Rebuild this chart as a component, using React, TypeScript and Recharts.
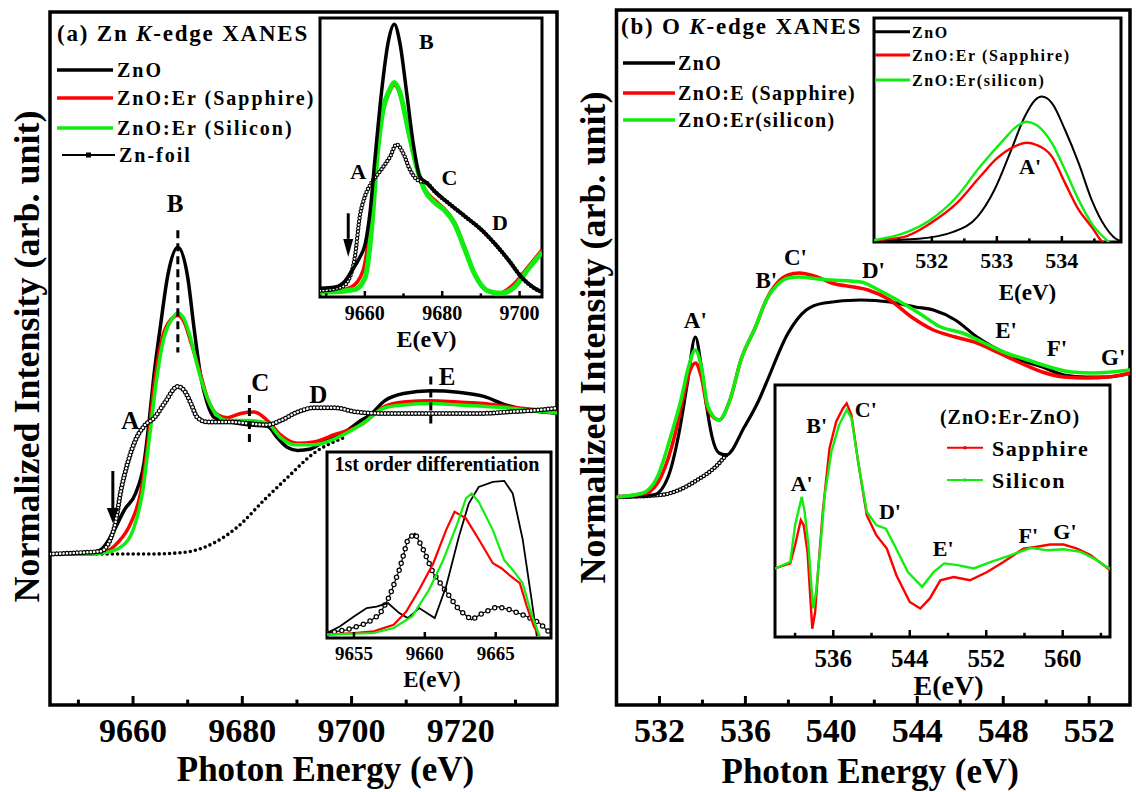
import React from "react";
import { LineChart, Line, XAxis, YAxis, ReferenceArea, ReferenceLine, ReferenceDot } from "recharts";

const SERIF = '"Liberation Serif", "Times New Roman", Times, serif';
const RED = "#ff0000";
const GREEN = "#10ee10";

// (a) Zn K-edge XANES, main panel (photon energy in eV, normalized intensity)
const aZnoE = [9644.8, 9650, 9652.5, 9654.1, 9656.3, 9658.4, 9660.5, 9662, 9662.9, 9663.8, 9665.1, 9666.3, 9668.2, 9670, 9671.2, 9672.4, 9673.6, 9674.9, 9677.9, 9681, 9684.6, 9686.4, 9688.3, 9690.1, 9692.5, 9694.4, 9699.2, 9701.7, 9703.4, 9706.1, 9709.5, 9714.5, 9719.5, 9724.2, 9728.2, 9732.9, 9738.3];
const aZnoI = [0, 0, 0.01, 0.03, 0.15, 0.31, 0.43, 0.64, 0.92, 1.25, 1.63, 1.95, 2.16, 1.95, 1.58, 1.25, 1.06, 0.96, 0.93, 0.91, 0.9, 0.82, 0.75, 0.73, 0.74, 0.78, 0.87, 0.94, 0.98, 1.08, 1.13, 1.15, 1.14, 1.11, 1.05, 1.01, 0.99];
const aSapE = [9644.8, 9652, 9654.6, 9657.2, 9659.6, 9661.5, 9662.7, 9663.9, 9665.4, 9666.9, 9668.2, 9669.4, 9670.6, 9672.1, 9673.6, 9675.5, 9677.3, 9679.7, 9682.2, 9684.6, 9687, 9690.1, 9693.1, 9696.8, 9701.7, 9706.1, 9709.5, 9714.5, 9719.5, 9724.2, 9728.2, 9732.9, 9738.3];
const aSapI = [0, 0, 0.01, 0.08, 0.22, 0.45, 0.78, 1.2, 1.53, 1.65, 1.68, 1.63, 1.49, 1.3, 1.1, 0.98, 0.96, 0.99, 1.0, 0.94, 0.84, 0.78, 0.79, 0.84, 0.91, 1.04, 1.07, 1.08, 1.07, 1.06, 1.04, 1.02, 1.0];
const aSiE = [9644.8, 9652, 9655, 9657.8, 9660.2, 9661.8, 9663, 9664.2, 9665.7, 9667.2, 9668.2, 9669.4, 9670.6, 9671.8, 9673.3, 9674.9, 9677.3, 9681, 9684.6, 9687, 9689.5, 9693.1, 9696.8, 9701.7, 9706.1, 9709.5, 9714.5, 9719.5, 9724.2, 9728.2, 9732.9, 9738.3];
const aSiI = [0, 0, 0.01, 0.05, 0.19, 0.45, 0.82, 1.2, 1.53, 1.66, 1.7, 1.65, 1.51, 1.32, 1.13, 1.0, 0.94, 0.94, 0.92, 0.82, 0.77, 0.77, 0.81, 0.91, 1.03, 1.05, 1.06, 1.05, 1.04, 1.03, 1.01, 0.99];
const aFoilE = [9644.8, 9650.5, 9654.1, 9656.6, 9657.8, 9659, 9660.2, 9662, 9663.9, 9665.7, 9668.2, 9669.4, 9670.6, 9671.8, 9673.6, 9677.9, 9681, 9684.6, 9687, 9690.1, 9693.1, 9696.8, 9701, 9706, 9712, 9718, 9724, 9728.2, 9732.9, 9738.3];
const aFoilI = [0, 0.01, 0.02, 0.19, 0.45, 0.64, 0.78, 0.9, 0.96, 1.06, 1.18, 1.15, 1.06, 0.96, 0.93, 0.93, 0.92, 0.91, 0.94, 1.0, 1.03, 1.03, 1.0, 0.99, 0.99, 0.99, 0.99, 1.0, 1.01, 1.03];
const aBgE = [9644.8, 9655, 9662.7, 9669, 9674.9, 9679.1, 9684, 9688.3, 9693.1, 9698.6];
const aBgI = [0, 0, 0, 0.01, 0.08, 0.19, 0.38, 0.54, 0.71, 0.82];
const aTicks = [9650, 9660, 9670, 9680, 9690, 9700, 9710, 9720, 9730];
const aMajor = [9660, 9680, 9700, 9720];

// (a) top inset: zoom of the edge
const i1ZnoE = [9648.4, 9652.3, 9654.9, 9656.6, 9658.7, 9660.1, 9661.4, 9662.6, 9664.3, 9666, 9667.6, 9669.05, 9670.8, 9672.5, 9674.2, 9676, 9678.1, 9681.5, 9685.9, 9690.2, 9693.6, 9697.1, 9700.5, 9703.9, 9705.8];
const i1ZnoI = [0.03, 0.04, 0.09, 0.17, 0.28, 0.39, 0.66, 1.07, 1.61, 2.01, 2.16, 2.01, 1.61, 1.2, 0.93, 0.88, 0.81, 0.72, 0.61, 0.5, 0.39, 0.26, 0.12, 0.03, 0.0];
const i1SapE = [9648.4, 9650.6, 9656.5, 9659.5, 9661.4, 9662.9, 9664.6, 9666.3, 9667.6, 9669.05, 9671.2, 9673.4, 9675.5, 9678.1, 9680.6, 9683.2, 9685.9, 9688.3, 9691.5, 9694.6, 9698.4, 9702.1, 9705.8];
const i1SapI = [0, 0, 0.04, 0.17, 0.55, 1.05, 1.45, 1.61, 1.67, 1.6, 1.3, 1.0, 0.83, 0.74, 0.67, 0.56, 0.35, 0.15, 0.01, -0.01, 0.06, 0.2, 0.34];
const i1SiE = [9648.4, 9650.6, 9657.4, 9660.1, 9661.8, 9663.1, 9664.7, 9666.4, 9667.6, 9669.05, 9671.2, 9673.4, 9675.5, 9678.1, 9680.6, 9683.2, 9685.9, 9688.3, 9691.8, 9695.2, 9698.7, 9702.1, 9705.8];
const i1SiI = [0, 0, 0.02, 0.12, 0.53, 1.07, 1.47, 1.63, 1.69, 1.61, 1.31, 1.01, 0.82, 0.72, 0.66, 0.55, 0.34, 0.15, 0.01, -0.01, 0.04, 0.18, 0.32];
const i1FoilE = [9648.4, 9654.0, 9656.1, 9657.4, 9658.7, 9660.0, 9661.7, 9664.3, 9666.5, 9668.2, 9669.9, 9671.6, 9673.8, 9676, 9678.1, 9681.5, 9685.9, 9690.2, 9693.6, 9697.1, 9700.5, 9703.9, 9705.8];
const i1FoilI = [0.01, 0.04, 0.12, 0.28, 0.61, 0.77, 0.88, 0.99, 1.09, 1.19, 1.12, 0.99, 0.9, 0.88, 0.81, 0.72, 0.61, 0.5, 0.39, 0.26, 0.12, 0.03, 0.0];
const i1Ticks = [9650, 9660, 9670, 9680, 9690, 9700];
const i1Major = [9660, 9680, 9700];

// (a) lower inset: 1st order differentiation
const d1ZnoE = [9653.1, 9654, 9655, 9655.9, 9656.6, 9657.4, 9658.2, 9658.8, 9659.6, 9660.7, 9661.5, 9662.4, 9663.1, 9663.8, 9664.8, 9665.6, 9666.2, 9666.9, 9667.5, 9667.9];
const d1ZnoV = [2.7, 6.2, 11.6, 16.1, 16.9, 18.8, 13.4, 10.7, 16.1, 10.7, 27.7, 54.4, 72.3, 81.2, 83.9, 84.5, 77.7, 53.1, 22.3, 0.9];
const d1SapE = [9653.1, 9655, 9656.4, 9657.8, 9658.7, 9659.6, 9660.6, 9661.5, 9662.1, 9662.9, 9663.8, 9664.8, 9665.4, 9666.1, 9666.7, 9667.2, 9667.7, 9668.1];
const d1SapV = [1.8, 2.7, 3.6, 7.1, 14.3, 25.9, 40.2, 58, 67.8, 64.3, 53.1, 40.2, 37.5, 33, 29.5, 16.9, 6.2, 0.9];
const d1SiE = [9653.1, 9656.4, 9657.8, 9659.1, 9660.3, 9661.3, 9662.3, 9662.9, 9663.3, 9663.8, 9664.8, 9665.6, 9666.3, 9666.9, 9667.5, 9668.1];
const d1SiV = [1.8, 2.7, 5.4, 11.6, 25.9, 41.9, 61.6, 75, 77.7, 73.2, 58, 41.9, 35.7, 29.5, 13.4, 0.9];
const d1FoilE = [9653.1, 9654.5, 9655.9, 9656.8, 9657.5, 9658.2, 9658.8, 9659.3, 9659.9, 9660.6, 9661.5, 9662.4, 9663.3, 9664.1, 9665.1, 9666, 9667.2, 9668.1, 9668.7];
const d1FoilV = [2.7, 4.4, 8, 12.5, 22.3, 36.6, 53.1, 56.3, 47.4, 34.8, 25, 15.2, 9.8, 13.4, 16.9, 15.2, 11.6, 8, 3.6];
const d1Ticks = [9655, 9660, 9665];

// (b) O K-edge XANES, main panel
const bZnoE = [530, 531.73, 532.4, 532.91, 533.3, 533.67, 533.95, 534.2, 534.45, 534.77, 535.11, 535.95, 536.63, 536.97, 537.99, 538.83, 539.67, 541.37, 542.72, 543.91, 544.75, 545.77, 546.78, 547.8, 548.81, 549.82, 550.84, 551.86, 552.87, 553.92];
const bZnoI = [0, 0.02, 0.2, 0.64, 1.14, 1.6, 1.3, 0.9, 0.6, 0.44, 0.42, 0.7, 0.97, 1.14, 1.64, 1.87, 1.94, 1.97, 1.95, 1.9, 1.87, 1.77, 1.6, 1.47, 1.37, 1.3, 1.22, 1.2, 1.2, 1.24];
const bSapE = [530, 531.39, 532.07, 532.74, 533.08, 533.4, 533.67, 533.95, 534.26, 534.77, 535.28, 535.79, 536.47, 536.97, 537.48, 537.99, 538.49, 539.34, 540.01, 541.03, 541.71, 542.72, 543.73, 544.75, 545.77, 546.78, 547.8, 548.81, 549.82, 550.84, 551.86, 552.87, 553.92];
const bSapI = [0, 0.04, 0.2, 0.64, 0.97, 1.25, 1.34, 1.2, 0.87, 0.77, 0.97, 1.37, 1.7, 1.97, 2.14, 2.22, 2.24, 2.2, 2.14, 2.1, 2.07, 1.97, 1.8, 1.67, 1.6, 1.54, 1.44, 1.34, 1.25, 1.2, 1.19, 1.2, 1.24];
const bSiE = [530, 531.22, 531.9, 532.57, 533.0, 533.35, 533.67, 533.95, 534.26, 534.77, 535.28, 535.79, 536.47, 536.97, 537.48, 537.99, 538.49, 539.34, 540.01, 541.37, 542.21, 543.06, 544.07, 545.09, 546.1, 547.12, 548.13, 549.15, 550.16, 551.18, 552.19, 553.92];
const bSiI = [0, 0.04, 0.2, 0.64, 0.97, 1.3, 1.47, 1.3, 0.9, 0.77, 0.97, 1.37, 1.7, 1.97, 2.12, 2.19, 2.2, 2.18, 2.17, 2.15, 2.07, 1.97, 1.84, 1.7, 1.64, 1.54, 1.44, 1.37, 1.3, 1.25, 1.24, 1.27];
const bRefE = [530, 532.07, 532.91, 533.76, 534.6, 535.11];
const bRefI = [0, 0.02, 0.07, 0.17, 0.3, 0.42];
const bTicks = [532, 534, 536, 538, 540, 542, 544, 546, 548, 550, 552];
const bMajor = [532, 536, 540, 544, 548, 552];

// (b) top inset: A' pre-edge peak
const b1ZnoE = [531.11, 531.8, 532.33, 532.7, 532.96, 533.22, 533.43, 533.59, 533.69, 533.85, 534.05, 534.26, 534.46, 534.67, 534.87, 534.91];
const b1ZnoV = [0.8, 1.5, 4.5, 11.2, 23.1, 41, 56, 63.4, 64.9, 61.9, 50, 35.1, 18.7, 6.7, 0.8, 0.5];
const b1SapE = [531.11, 531.56, 531.97, 532.38, 532.74, 533.0, 533.26, 533.46, 533.61, 533.85, 534.05, 534.26, 534.46, 534.6, 534.75];
const b1SapV = [0.8, 2.2, 8.2, 17.2, 29.1, 37.3, 42.5, 44.3, 43.3, 38, 26.3, 14.3, 6.7, 0.8, -2];
const b1SiE = [531.11, 531.56, 531.97, 532.38, 532.74, 533.1, 533.3, 533.46, 533.61, 533.85, 534.05, 534.26, 534.46, 534.69, 534.8];
const b1SiV = [0.8, 3.8, 9.7, 20.1, 33.6, 45.5, 51.5, 53.7, 52.2, 44, 32.1, 18.7, 8.2, 0.8, -2];
const b1Ticks = [531.5, 532, 532.5, 533, 533.5, 534, 534.5];
const b1Major = [532, 533, 534];

// (b) lower inset: difference spectra (ZnO:Er - ZnO)
const b2SapE = [529.9, 531.5, 532.0, 532.6, 532.9, 533.3, 533.6, 533.8, 534.1, 534.4, 534.9, 535.6, 536.3, 537.0, 537.4, 537.9, 538.6, 539.5, 540.5, 541.6, 542.6, 544.0, 545.1, 546.1, 547.2, 548.6, 550.3, 552.1, 553.8, 555.9, 557.3, 558.7, 560.1, 561.5, 562.9, 564.3, 564.95];
const b2SapV = [27.2, 29.2, 36.4, 46.4, 44.4, 33.8, 15.3, 3.3, 9.9, 25.8, 49.7, 74.8, 85.4, 90.7, 92.7, 88.1, 69.5, 48.4, 40.4, 35.1, 24.5, 13.9, 11.3, 15.3, 22.5, 23.8, 22.5, 25.8, 29.8, 35.1, 35.8, 36.7, 36.7, 35.1, 32.5, 28.5, 26.5];
const b2SiE = [529.9, 531.5, 532.0, 532.7, 533.0, 533.4, 533.7, 533.9, 534.2, 534.6, 535.1, 535.8, 536.6, 537.4, 537.9, 538.6, 539.5, 540.5, 541.5, 542.4, 543.8, 545.3, 546.5, 547.6, 549.0, 550.7, 552.5, 554.6, 556.7, 558.4, 560.1, 561.9, 563.3, 564.95];
const b2SiV = [27.2, 29.8, 44.4, 55.6, 49.7, 36.4, 20.5, 11.3, 17.9, 33.8, 56.3, 73.5, 84.1, 90.1, 86.8, 69.5, 49.7, 44.4, 43, 36.4, 25.8, 19.9, 25.8, 29.2, 28.5, 27.2, 29.8, 32.5, 35.4, 34.4, 34.8, 33.8, 31.1, 27];
const b2Ticks = [532, 536, 540, 544, 548, 552, 556, 560, 564];
const b2Major = [536, 544, 552, 560];

// axis windows
const A_X = [9644.8, 9737.6];
const A_Y = [-1.063, 3.817];
const I1_X = [9648.4, 9705.8];
const I1_Y = [-0.04, 2.21];
const D1_X = [9653.1, 9668.9];
const B_X = [530, 553.9];
const B_Y = [-2.08, 4.87];
const B1_X = [531.11, 534.91];
const B2_X = [529.9, 564.95];
const PCT = [0, 100];

const pts = (e: number[], v: number[]) => e.map((x, i) => ({ e: x, v: v[i] }));

const bold = (size: number) => ({ fontSize: size, fontWeight: "bold", fontFamily: SERIF, fill: "#000" });

const tickMarks = (majors: number[], size: number, dy: number, len: number, w: number) => (p: any) => {
  const major = majors.includes(p.payload.value);
  return (
    <g>
      <line x1={p.x} x2={p.x} y1={p.y} y2={p.y - (major ? len : len * 0.6)} stroke="#000" strokeWidth={w} />
      {major && (
        <text x={p.x} y={p.y + dy} textAnchor="middle" {...bold(size)}>
          {p.payload.value}
        </text>
      )}
    </g>
  );
};

const curve = (key: string, data: any[], stroke: string, width: number, type: any = "monotone", extra: any = {}) => (
  <Line key={key} data={data} dataKey="v" type={type} stroke={stroke} strokeWidth={width} dot={false} isAnimationActive={false} {...extra} />
);

// open-circle markers: black round dots with a white centre
const rings = (key: string, data: any[], gap: number, outer: number, inner: number, type: any = "monotone") => [
  curve(key + "-l", data, "#000", 1.2, type),
  curve(key + "-o", data, "#000", outer, type, { strokeDasharray: `0 ${gap}`, strokeLinecap: "round" }),
  curve(key + "-i", data, "#fff", inner, type, { strokeDasharray: `0 ${gap}`, strokeLinecap: "round" }),
];

const note = (key: string, x: number, y: number, text: string, size: number) => (
  <ReferenceDot
    key={key}
    x={x}
    y={y}
    r={0}
    ifOverflow="visible"
    shape={(p: any) => (
      <text x={p.cx} y={p.cy} textAnchor="middle" dominantBaseline="central" {...bold(size)}>
        {text}
      </text>
    )}
  />
);

const arrow = (key: string, x: number, top: number, base: number, tip: number, h: number, half: number) => [
  <ReferenceLine key={key + "-s"} segment={[{ x, y: top }, { x, y: base }]} stroke="#000" strokeWidth={3} ifOverflow="visible" />,
  <ReferenceDot
    key={key + "-h"}
    x={x}
    y={tip}
    r={0}
    ifOverflow="visible"
    shape={(p: any) => <polygon points={`${p.cx},${p.cy} ${p.cx - half},${p.cy - h} ${p.cx + half},${p.cy - h}`} fill="#000" />}
  />,
];

const dashMark = (key: string, x: number, y1: number, y2: number) => (
  <ReferenceLine key={key} segment={[{ x, y: y1 }, { x, y: y2 }]} stroke="#000" strokeWidth={3} strokeDasharray="8 5" ifOverflow="visible" />
);

const frame = (xd: number[], yd: number[], w: number) => (
  <ReferenceArea x1={xd[0]} x2={xd[1]} y1={yd[0]} y2={yd[1]} fill="none" stroke="#000" strokeWidth={w} ifOverflow="visible" />
);

function PanelA() {
  return (
    <div style={{ position: "absolute", left: 0, top: 0 }}>
      <LineChart width={570} height={792} margin={{ top: 12, right: 13, bottom: 0, left: 0 }}>
        <XAxis
          type="number"
          dataKey="e"
          domain={A_X}
          allowDataOverflow
          ticks={aTicks}
          interval={0}
          tickSize={0}
          tickMargin={0}
          tickLine={false}
          axisLine={false}
          height={87}
          tick={tickMarks(aMajor, 34, 37, 9, 3)}
          label={{ value: "Photon Energy (eV)", position: "insideBottom", offset: 11, dx: 22, ...bold(35) }}
        />
        <YAxis
          type="number"
          domain={A_Y}
          allowDataOverflow
          width={50}
          tick={false}
          tickLine={false}
          axisLine={false}
          label={{ value: "Normalized Intensity (arb. unit)", angle: -90, position: "center", dx: 1, dy: -2, ...bold(36) }}
        />
        {curve("bg", pts(aBgE, aBgI), "#000", 3.6, "monotone", { strokeDasharray: "0 5.2", strokeLinecap: "round" })}
        {curve("zno", pts(aZnoE, aZnoI), "#000", 3.5)}
        {curve("sap", pts(aSapE, aSapI), RED, 3.5)}
        {curve("si", pts(aSiE, aSiI), GREEN, 3.5)}
        {rings("foil", pts(aFoilE, aFoilI), 3.4, 5, 2.6)}
        {dashMark("dB", 9668.2, 2.28, 1.42)}
        {dashMark("dC", 9681.3, 1.12, 0.77)}
        {dashMark("dE", 9714.5, 1.25, 0.92)}
        {arrow("arr", 9656.3, 0.585, 0.324, 0.218, 15, 6)}
        {note("nB", 9667.7, 2.47, "B", 25)}
        {note("nA", 9659.5, 0.94, "A", 25)}
        {note("nC", 9683.3, 1.21, "C", 25)}
        {note("nD", 9693.9, 1.12, "D", 25)}
        {note("nE", 9717.5, 1.25, "E", 25)}
        {frame(A_X, A_Y, 3.5)}
      </LineChart>
    </div>
  );
}

function InsetA1() {
  return (
    <div style={{ position: "absolute", left: 316, top: 14 }}>
      <LineChart width={230} height={338} margin={{ top: 4, right: 4, bottom: 0, left: 4 }}>
        <XAxis
          type="number"
          dataKey="e"
          domain={I1_X}
          allowDataOverflow
          ticks={i1Ticks}
          interval={0}
          tickSize={0}
          tickMargin={0}
          tickLine={false}
          axisLine={false}
          height={55}
          tick={tickMarks(i1Major, 20, 23, 6, 2.5)}
          label={{ value: "E(eV)", position: "insideBottom", offset: 5.5, dx: -4.5, ...bold(24) }}
        />
        <YAxis type="number" domain={I1_Y} allowDataOverflow hide />
        {curve("sap", pts(i1SapE, i1SapI), RED, 3.5)}
        {curve("si", pts(i1SiE, i1SiI), GREEN, 5)}
        {rings("foil", pts(i1FoilE, i1FoilI), 3.4, 4.4, 2.2)}
        {curve("zno", pts(i1ZnoE, i1ZnoI), "#000", 3.5)}
        {arrow("arr", 9655.7, 0.635, 0.429, 0.283, 18, 5)}
        {note("nB", 9675.9, 2.02, "B", 22)}
        {note("nA", 9658.3, 0.97, "A", 22)}
        {note("nC", 9681.9, 0.92, "C", 22)}
        {note("nD", 9694.9, 0.56, "D", 22)}
        {frame(I1_X, I1_Y, 3)}
      </LineChart>
    </div>
  );
}

function InsetA2() {
  return (
    <div style={{ position: "absolute", left: 323, top: 448 }}>
      <LineChart width={232} height={245} margin={{ top: 4, right: 4, bottom: 0, left: 4 }}>
        <XAxis
          type="number"
          dataKey="e"
          domain={D1_X}
          allowDataOverflow
          ticks={d1Ticks}
          interval={0}
          tickSize={0}
          tickMargin={0}
          tickLine={false}
          axisLine={false}
          height={55}
          tick={tickMarks(d1Ticks, 19, 22, 6, 2.5)}
          label={{ value: "E(eV)", position: "insideBottom", offset: 6.5, dx: -7, ...bold(23) }}
        />
        <YAxis type="number" domain={PCT} allowDataOverflow hide />
        {rings("foil", pts(d1FoilE, d1FoilV), 7.5, 5.5, 3, "linear")}
        {curve("zno", pts(d1ZnoE, d1ZnoV), "#000", 1.8, "linear")}
        {curve("sap", pts(d1SapE, d1SapV), RED, 2.2, "linear")}
        {curve("si", pts(d1SiE, d1SiV), GREEN, 2.2, "linear")}
        {note("title", 9660.85, 93.8, "1st order differentiation", 20)}
        {frame(D1_X, PCT, 3)}
      </LineChart>
    </div>
  );
}

function PanelB() {
  return (
    <div style={{ position: "absolute", left: 570, top: 0 }}>
      <LineChart width={566} height={792} margin={{ top: 10, right: 6, bottom: 0, left: 0 }}>
        <XAxis
          type="number"
          dataKey="e"
          domain={B_X}
          allowDataOverflow
          ticks={bTicks}
          interval={0}
          tickSize={0}
          tickMargin={0}
          tickLine={false}
          axisLine={false}
          height={87}
          tick={tickMarks(bMajor, 34, 37, 9, 3)}
          label={{ value: "Photon Energy (eV)", position: "insideBottom", offset: 9, dx: -3, ...bold(35) }}
        />
        <YAxis
          type="number"
          domain={B_Y}
          allowDataOverflow
          width={46.5}
          tick={false}
          tickLine={false}
          axisLine={false}
          label={{ value: "Normalized Intensity (arb. unit)", angle: -90, position: "center", dx: -1, dy: -20, ...bold(36) }}
        />
        {rings("ref", pts(bRefE, bRefI), 3.4, 4.6, 2.2)}
        {curve("zno", pts(bZnoE, bZnoI), "#000", 3.2)}
        {curve("sap", pts(bSapE, bSapI), RED, 3.5)}
        {curve("si", pts(bSiE, bSiI), GREEN, 3.5)}
        {note("nA", 533.67, 1.77, "A'", 23)}
        {note("nB", 536.97, 2.17, "B'", 23)}
        {note("nC", 538.33, 2.4, "C'", 23)}
        {note("nD", 541.96, 2.27, "D'", 23)}
        {note("nE", 548.13, 1.67, "E'", 23)}
        {note("nF", 550.5, 1.49, "F'", 23)}
        {note("nG", 553.12, 1.4, "G'", 23)}
        {frame(B_X, B_Y, 3.5)}
      </LineChart>
    </div>
  );
}

function InsetB1() {
  return (
    <div style={{ position: "absolute", left: 870, top: 14 }}>
      <LineChart width={255} height={290} margin={{ top: 4, right: 4, bottom: 0, left: 4 }}>
        <XAxis
          type="number"
          dataKey="e"
          domain={B1_X}
          allowDataOverflow
          ticks={b1Ticks}
          interval={0}
          tickSize={0}
          tickMargin={0}
          tickLine={false}
          axisLine={false}
          height={62}
          tick={tickMarks(b1Major, 22, 26, 6, 2.5)}
          label={{ value: "E(eV)", position: "insideBottom", offset: 4, dx: 30, ...bold(23) }}
        />
        <YAxis type="number" domain={PCT} allowDataOverflow hide />
        {curve("zno", pts(b1ZnoE, b1ZnoV), "#000", 2)}
        {curve("sap", pts(b1SapE, b1SapV), RED, 2.4)}
        {curve("si", pts(b1SiE, b1SiV), GREEN, 2.4)}
        {note("nA", 533.51, 33.6, "A'", 22)}
        {frame(B1_X, PCT, 3)}
      </LineChart>
    </div>
  );
}

function InsetB2() {
  return (
    <div style={{ position: "absolute", left: 771, top: 381 }}>
      <LineChart width={343} height={320} margin={{ top: 4, right: 4, bottom: 0, left: 4 }}>
        <XAxis
          type="number"
          dataKey="e"
          domain={B2_X}
          allowDataOverflow
          ticks={b2Ticks}
          interval={0}
          tickSize={0}
          tickMargin={0}
          tickLine={false}
          axisLine={false}
          height={64}
          tick={tickMarks(b2Major, 25, 30, 7, 2.5)}
          label={{ value: "E(eV)", position: "insideBottom", offset: 6, dx: 6, ...bold(28) }}
        />
        <YAxis type="number" domain={PCT} allowDataOverflow hide />
        {curve("sap", pts(b2SapE, b2SapV), RED, 2.4, "linear")}
        {curve("si", pts(b2SiE, b2SiV), GREEN, 2.4, "linear")}
        {note("nA", 532.69, 60.9, "A'", 22)}
        {note("nB", 534.26, 84.1, "B'", 22)}
        {note("nC", 539.4, 90.1, "C'", 22)}
        {note("nD", 541.93, 49.7, "D'", 22)}
        {note("nE", 547.5, 35.1, "E'", 22)}
        {note("nF", 556.4, 40.4, "F'", 22)}
        {note("nG", 560.23, 41.7, "G'", 22)}
        {frame(B2_X, PCT, 3)}
      </LineChart>
    </div>
  );
}

// panel titles and legends
function Overlay() {
  const t = (size: number, ls: number) => ({ ...bold(size), letterSpacing: ls });
  return (
    <svg width={1136} height={792} style={{ position: "absolute", left: 0, top: 0, pointerEvents: "none" }}>
      <text x={57} y={41} {...t(23, 1.8)}>
        (a) Zn <tspan fontStyle="italic">K</tspan>-edge XANES
      </text>
      <line x1={57} x2={113} y1={70} y2={70} stroke="#000" strokeWidth={3.5} />
      <text x={117} y={77} {...t(20, 2)}>ZnO</text>
      <line x1={57} x2={113} y1={98} y2={98} stroke={RED} strokeWidth={3.5} />
      <text x={117} y={105} {...t(20, 2)}>ZnO:Er (Sapphire)</text>
      <line x1={57} x2={113} y1={128} y2={128} stroke={GREEN} strokeWidth={3.5} />
      <text x={117} y={135} {...t(20, 2)}>ZnO:Er (Silicon)</text>
      <line x1={62} x2={115} y1={155} y2={155} stroke="#000" strokeWidth={2} />
      <rect x={86} y={152.5} width={5} height={5} fill="#000" />
      <text x={119} y={162} {...t(20, 2)}>Zn-foil</text>

      <text x={621} y={34} {...t(23, 1.8)}>
        (b) O <tspan fontStyle="italic">K</tspan>-edge XANES
      </text>
      <line x1={623} x2={675} y1={63} y2={63} stroke="#000" strokeWidth={3.5} />
      <text x={678} y={70} {...t(20, 1.4)}>ZnO</text>
      <line x1={623} x2={675} y1={93} y2={93} stroke={RED} strokeWidth={3.5} />
      <text x={678} y={100} {...t(20, 1.4)}>ZnO:E (Sapphire)</text>
      <line x1={623} x2={675} y1={120} y2={120} stroke={GREEN} strokeWidth={3.5} />
      <text x={678} y={127} {...t(20, 1.4)}>ZnO:Er(silicon)</text>

      <line x1={875} x2={910} y1={31.7} y2={31.7} stroke="#000" strokeWidth={3} />
      <text x={912} y={37.5} {...t(16, 1.6)}>ZnO</text>
      <line x1={875} x2={910} y1={55} y2={55} stroke={RED} strokeWidth={3} />
      <text x={912} y={61} {...t(16, 1.6)}>ZnO:Er (Sapphire)</text>
      <line x1={875} x2={910} y1={80} y2={80} stroke={GREEN} strokeWidth={3} />
      <text x={912} y={86} {...t(16, 1.6)}>ZnO:Er(silicon)</text>

      <text x={1010} y={424} textAnchor="middle" {...t(20, 1)}>(ZnO:Er-ZnO)</text>
      <line x1={947} x2={983} y1={447.7} y2={447.7} stroke={RED} strokeWidth={2} />
      <circle cx={965} cy={447.7} r={1.8} fill={RED} />
      <text x={992} y={455.5} {...t(22, 1.5)}>Sapphire</text>
      <line x1={947} x2={983} y1={480} y2={480} stroke={GREEN} strokeWidth={2} />
      <circle cx={965} cy={480} r={1.8} fill={GREEN} />
      <text x={992} y={488} {...t(22, 1.5)}>Silicon</text>
    </svg>
  );
}

export default function App() {
  return (
    <div style={{ position: "absolute", left: 0, top: 0, width: 1136, height: 792, background: "#fff", overflow: "hidden" }}>
      <PanelA />
      <PanelB />
      <InsetA1 />
      <InsetA2 />
      <InsetB1 />
      <InsetB2 />
      <Overlay />
    </div>
  );
}
